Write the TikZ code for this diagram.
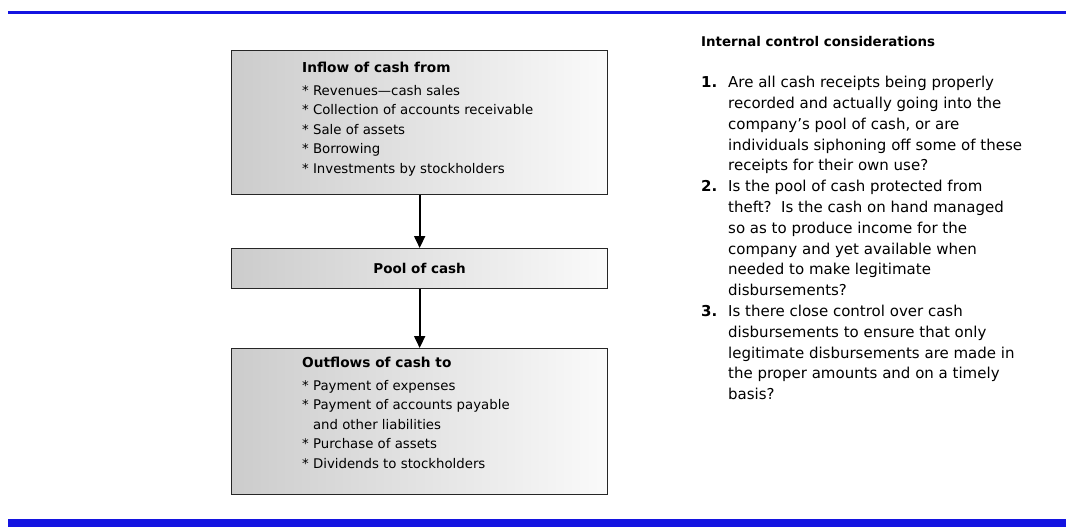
\documentclass[tikz,border=0pt]{standalone}
\usepackage{fontspec}
\setmainfont{DejaVu Sans}
\usetikzlibrary{arrows.meta,positioning}
\definecolor{barblue}{RGB}{20,20,225}

\begin{document}
\begin{tikzpicture}[x=1pt, y=-1pt,
  flowbox/.style={draw=black!85, line width=1.3pt, minimum width=376pt, inner sep=0pt, left color=black!20, right color=black!2},
  flowarrow/.style={-{Triangle[width=11pt,length=12pt]}, line width=1.8pt}]
\useasboundingbox (0,0) rectangle (1066,527);
% rules
\draw[barblue, line width=3pt] (8,13) -- (1066,13);
\fill[barblue] (8,519) rectangle (1066,527);
% boxes
\node[flowbox, minimum height=144pt, anchor=north west] (inflow) at (231,50) {};
\node[flowbox, minimum height=40pt, anchor=north west] (pool) at (231,248) {};
\node[flowbox, minimum height=146pt, anchor=north west] (outflow) at (231,348) {};
\node[font=\bfseries\fontsize{13.5}{16}\selectfont] (poollbl) at (pool.center) {Pool of cash};
\node[anchor=north west, align=left, inner sep=0pt, font=\fontsize{13.3}{19.5}\selectfont] (inlist) at (302,62)
  {{\bfseries\fontsize{13.7}{16}\selectfont Inflow of cash from}\\[3pt]
   * Revenues---cash sales\\
   * Collection of accounts receivable\\
   * Sale of assets\\
   * Borrowing\\
   * Investments by stockholders};
\node[anchor=north west, align=left, inner sep=0pt, font=\fontsize{13.3}{19.5}\selectfont] (outlist) at (302,357)
  {{\bfseries\fontsize{13.7}{16}\selectfont Outflows of cash to}\\[3pt]
   * Payment of expenses\\
   * Payment of accounts payable\\
   \phantom{* }and other liabilities\\
   * Purchase of assets\\
   * Dividends to stockholders};
% connectors
\draw[flowarrow] (inflow.south) -- (pool.north);
\draw[flowarrow] (pool.south) -- (outflow.north);
% considerations
\newcommand{\icnum}[1]{\makebox[27pt][l]{\bfseries #1}}
\node[anchor=base west, inner sep=0pt, font=\bfseries\fontsize{13.4}{16}\selectfont] (ictitle) at (701,47) {Internal control considerations};
\node[anchor=north west, inner sep=0pt, font=\fontsize{15}{20.8}\selectfont] (iclist) at (701,73)
  {\begin{tabular}{@{}l@{}l@{}}
   \icnum{1.} & Are all cash receipts being properly\\
              & recorded and actually going into the\\
              & company's pool of cash, or are\\
              & individuals siphoning off some of these\\
              & receipts for their own use?\\
   \icnum{2.} & Is the pool of cash protected from\\
              & theft?\ \ Is the cash on hand managed\\
              & so as to produce income for the\\
              & company and yet available when\\
              & needed to make legitimate\\
              & disbursements?\\
   \icnum{3.} & Is there close control over cash\\
              & disbursements to ensure that only\\
              & legitimate disbursements are made in\\
              & the proper amounts and on a timely\\
              & basis?
  \end{tabular}};
\end{tikzpicture}
\end{document}
